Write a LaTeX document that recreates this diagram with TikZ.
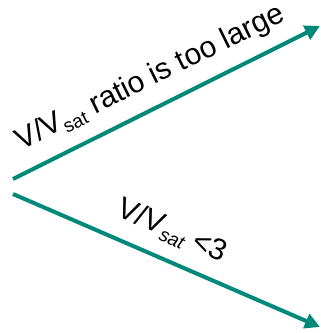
\documentclass[tikz,border=0pt]{standalone}
\usepackage{fontspec}
\setmainfont{Liberation Sans}
\usetikzlibrary{arrows.meta,calc}
\definecolor{tealarrow}{RGB}{0,137,123}
\tikzset{
  flow/.style={draw=tealarrow, line width=4pt, -{Triangle[length=15pt,width=15pt]}},
  lbl/.style={anchor=base, inner sep=0pt, font=\fontsize{30}{36}\selectfont},
}
% lowered, smaller subscript text
\newcommand{\subsat}[1]{{\fontsize{19}{20}\selectfont\raisebox{-5pt}{#1}}}

\begin{document}
\begin{tikzpicture}[x=1pt,y=1pt]
\useasboundingbox (0,0) rectangle (321,333);
\coordinate (upS) at (13,154);
\coordinate (upE) at (320,307);
\coordinate (loS) at (13,139);
\coordinate (loE) at (320,6);
\draw[flow] (upS) -- (upE);
\draw[flow] (loS) -- (loE);
\node[lbl, rotate=26.2] (upL) at ($(upS)!0.49!(upE)!21pt!90:(upE)$)
  {V/V\subsat{sat} ratio is too large};
\node[lbl, rotate=-23.42] (loL) at ($(loS)!0.48!(loE)!21pt!90:(loE)$)
  {V/V\subsat{\itshape sat} <3};
\end{tikzpicture}
\end{document}
